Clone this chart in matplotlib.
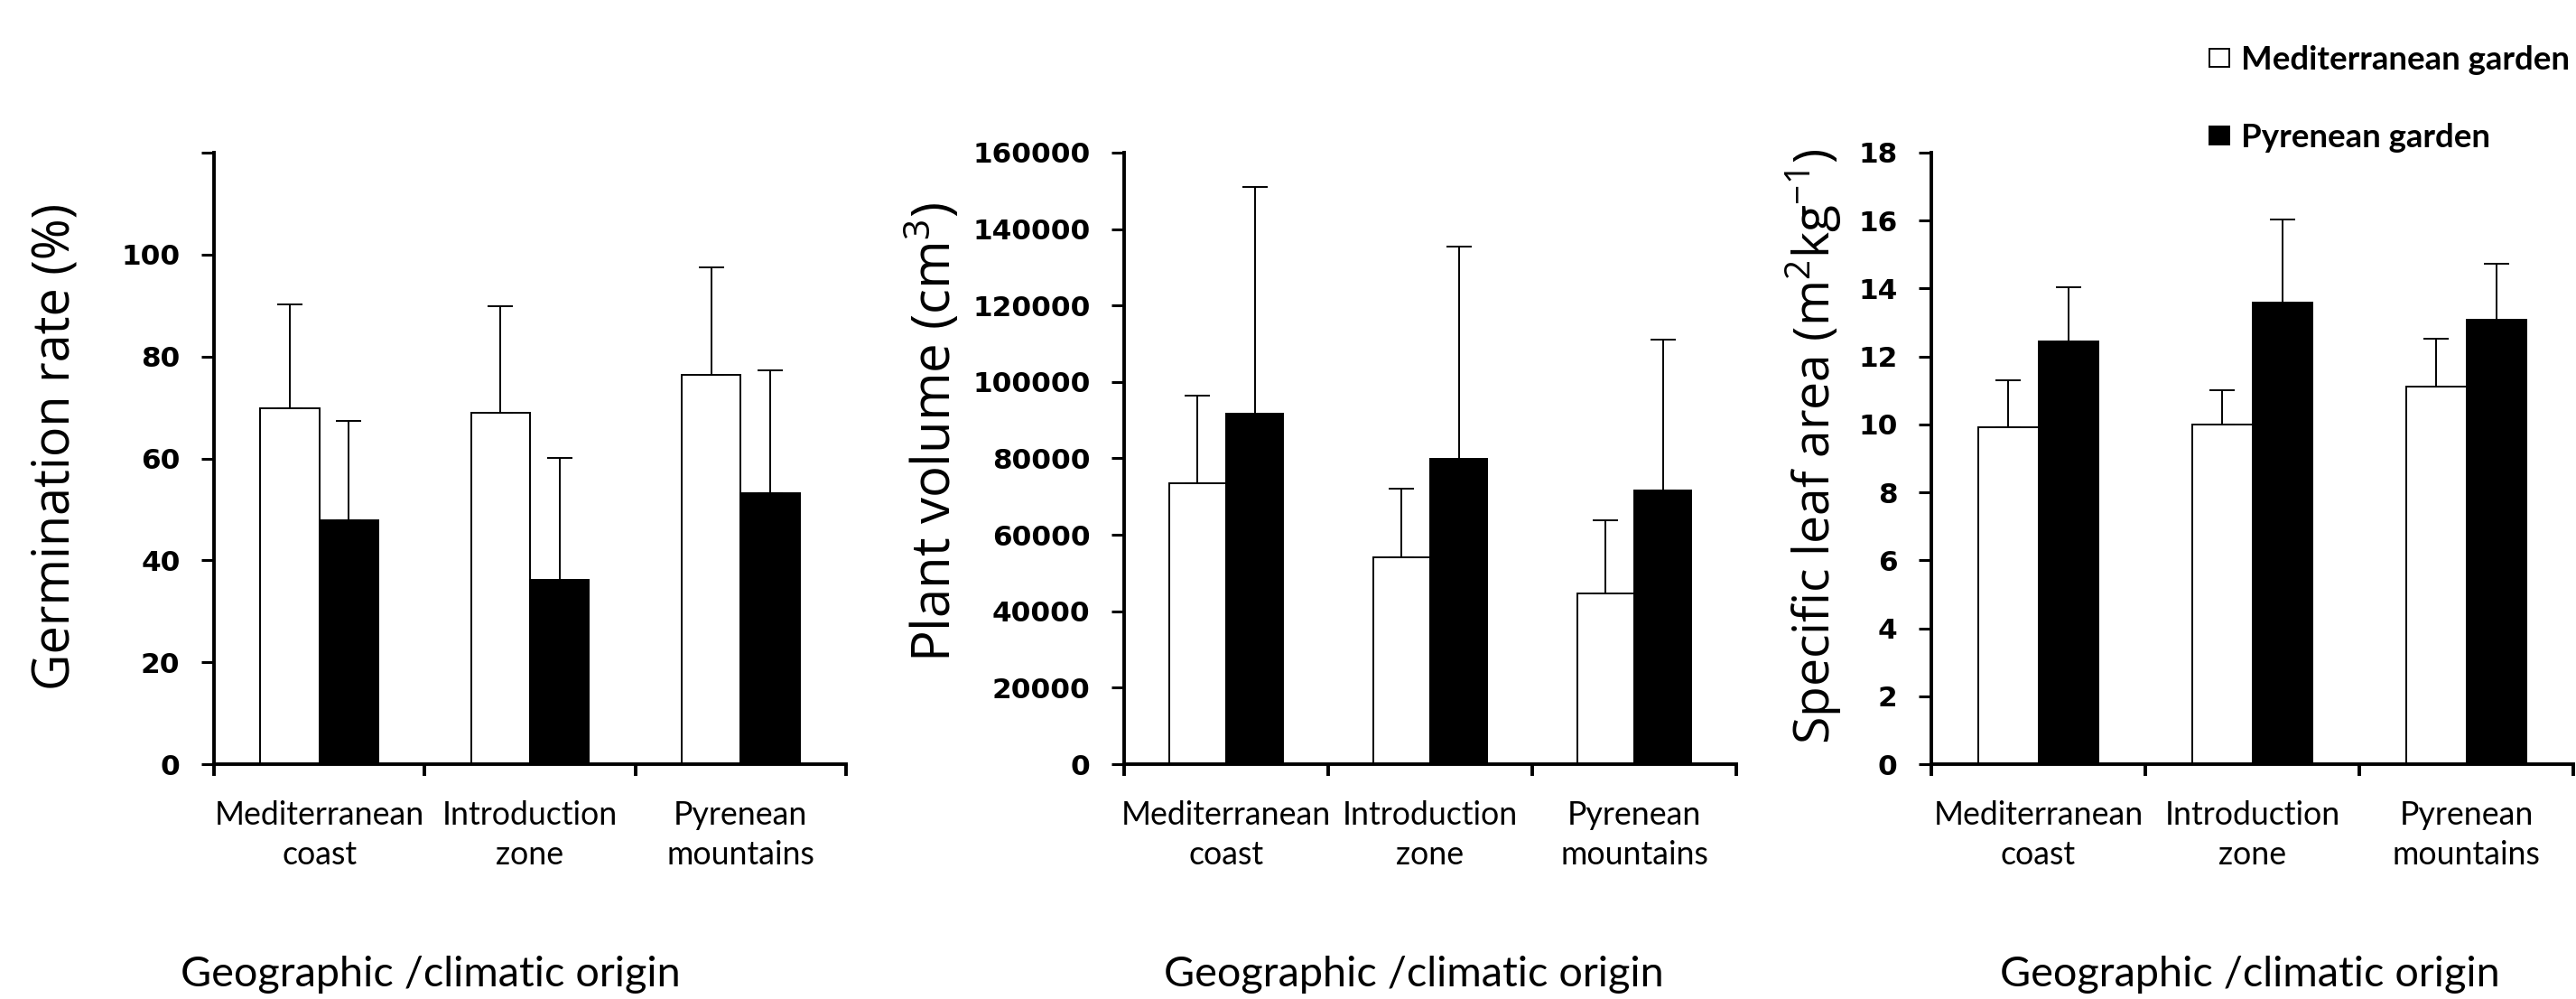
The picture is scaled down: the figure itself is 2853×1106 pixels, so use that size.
import numpy as np
import matplotlib
matplotlib.use("Agg")
import matplotlib.pyplot as plt

plt.rcParams['font.family'] = ['Lato', 'DejaVu Sans']
plt.rcParams['mathtext.fontset'] = 'custom'
plt.rcParams['mathtext.rm'] = 'Open Sans'

# --- datos ---
origenes = ["Mediterranean\ncoast", "Introduction\nzone", "Pyrenean\nmountains"]
series = ["Mediterranean garden", "Pyrenean garden"]

germ_med = [69.8, 68.9, 76.4]
germ_med_err = [20.4, 21.0, 21.1]
germ_pyr = [47.9, 36.1, 53.2]
germ_pyr_err = [19.4, 24.0, 24.1]

vol_med = [73600, 54100, 44700]
vol_med_err = [22900, 18100, 19000]
vol_pyr = [91600, 79900, 71600]
vol_pyr_err = [59400, 55500, 39500]

sla_med = [9.93, 9.99, 11.12]
sla_med_err = [1.38, 1.01, 1.39]
sla_pyr = [12.45, 13.58, 13.08]
sla_pyr_err = [1.58, 2.45, 1.64]

xlabel = "Geographic /climatic origin"

paneles = [
    dict(med=germ_med, med_err=germ_med_err, pyr=germ_pyr, pyr_err=germ_pyr_err,
         ymax=120, yticks=np.arange(0, 121, 20), ylabel="Germination rate (%)"),
    dict(med=vol_med, med_err=vol_med_err, pyr=vol_pyr, pyr_err=vol_pyr_err,
         ymax=160000, yticks=np.arange(0, 160001, 20000),
         ylabel=r"Plant volume (cm$^\mathregular{3}$)"),
    dict(med=sla_med, med_err=sla_med_err, pyr=sla_pyr, pyr_err=sla_pyr_err,
         ymax=18, yticks=np.arange(0, 19, 2),
         ylabel=r"Specific leaf area (m$^\mathregular{2}$kg$^\mathregular{-1}$)"),
]

W, H = 2853, 1106
fig = plt.figure(figsize=(W / 100, H / 100), dpi=100)
renderer = fig.canvas.get_renderer()

fam_ylab = ['Open Sans', 'Lato']


def talla_para(texto, objetivo_px, **props):
    # tamaño de letra para que el texto ocupe objetivo_px de largo
    t = fig.text(0, 0, texto, fontsize=10, **props)
    w = t.get_window_extent(renderer=renderer).width
    t.remove()
    return 10 * objetivo_px / w


fs_ytick = talla_para("160000", 130, fontweight="bold", family="DejaVu Sans")
fs_xtick = talla_para("Mediterranean", 233)
fs_xlabel = talla_para(xlabel, 555)
fs_leg = talla_para(series[0], 366, fontweight="bold")
ylab_largo = [540, 515, 665]

# posiciones en pixeles de cada eje y de los rotulos
ejes_px = [(237, 937), (1245, 1923), (2139, 2850)]
top_px, zero_px = 169, 846
xlab_cx = [477, 1566, 2492]
ylab_x = [62, 1034, 2008]
ylab_cy = [494, 478, 494]

x = np.arange(len(origenes))
ancho = 0.28
barras = None

for i, p in enumerate(paneles):
    l, r = ejes_px[i]
    ax = fig.add_axes([l / W, 1 - zero_px / H, (r - l) / W, (zero_px - top_px) / H])
    zeros = np.zeros(len(x))
    b1 = ax.bar(x - ancho / 2, p["med"], ancho, color="white", edgecolor="black",
                linewidth=1.4, yerr=[zeros, p["med_err"]], capsize=10,
                error_kw=dict(elinewidth=1.4, capthick=1.4, ecolor="black"), zorder=2)
    b2 = ax.bar(x + ancho / 2, p["pyr"], ancho, color="black", edgecolor="black",
                linewidth=1.4, yerr=[zeros, p["pyr_err"]], capsize=10,
                error_kw=dict(elinewidth=1.4, capthick=1.4, ecolor="black"), zorder=2)
    if barras is None:
        barras = (b1, b2)

    ax.set_xlim(-0.5, 2.5)
    ax.set_ylim(0, p["ymax"])
    ax.spines["top"].set_visible(False)
    ax.spines["right"].set_visible(False)
    ax.spines["left"].set_linewidth(2.8)
    ax.spines["bottom"].set_linewidth(2.8)

    ax.set_xticks(x)
    ax.set_xticklabels(origenes, fontsize=fs_xtick, linespacing=1.38)
    ax.set_xticks([-0.5, 0.5, 1.5, 2.5], minor=True)
    ax.tick_params(axis="x", which="major", length=0, pad=29)
    ax.tick_params(axis="x", which="minor", length=9, width=2.8, direction="out")

    ax.set_yticks(p["yticks"])
    etiquetas = [str(int(v)) for v in p["yticks"]]
    if i == 0:
        etiquetas[-1] = ""
    ax.set_yticklabels(etiquetas, fontsize=fs_ytick, fontweight="bold", family="DejaVu Sans")
    ax.tick_params(axis="y", length=10, width=2.2, direction="out", pad=17)

    fs_ylab = talla_para(p["ylabel"], ylab_largo[i], family=fam_ylab)
    fig.text(ylab_x[i] / W, 1 - ylab_cy[i] / H, p["ylabel"], rotation=90,
             ha="center", va="center", fontsize=fs_ylab, family=fam_ylab)
    fig.text(xlab_cx[i] / W, 1 - 1092 / H, xlabel,
             ha="center", va="baseline", fontsize=fs_xlabel)

fig.legend(barras, series, loc="upper left", bbox_to_anchor=(2447 / W, 1 - 50 / H),
           frameon=False, prop=dict(size=fs_leg, weight="bold"), handlelength=0.6,
           handleheight=0.45, handletextpad=0.35, labelspacing=1.45, borderpad=0,
           borderaxespad=0)

fig.savefig("out.png", dpi=100)
